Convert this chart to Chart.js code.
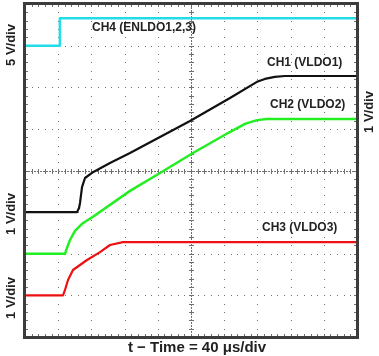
<!DOCTYPE html>
<html><head><meta charset="utf-8">
<script src="https://cdn.jsdelivr.net/npm/chart.js@4/dist/chart.umd.min.js"></script>
<style>html,body{margin:0;padding:0;background:#fff;overflow:hidden}canvas{display:block}</style>
</head><body>
<canvas id="c" width="379" height="356"></canvas>
<script>
// Time in µs (40 µs/div, 10 div), voltage in volts
const ch4Time  = [0, 42, 42, 400];
const ch4Volts = [0, 0, 3.3, 3.3];
const ch1Time  = [0, 62.7, 65.1, 66.3, 68.7, 72.3, 81.9, 102.4, 126.5, 198.8, 247, 279.5, 289, 301, 313, 400];
const ch1Volts = [0, 0, 0.10, 0.22, 0.60, 0.82, 0.96, 1.18, 1.42, 2.19, 2.74, 3.13, 3.20, 3.25, 3.27, 3.27];
const ch2Time  = [0, 48.2, 50.6, 54.2, 60.2, 68.7, 81.9, 126.5, 162.7, 202.4, 244.6, 265, 279.5, 291.6, 400];
const ch2Volts = [0, 0, 0.14, 0.33, 0.55, 0.72, 0.89, 1.51, 1.94, 2.42, 2.90, 3.12, 3.21, 3.24, 3.24];
const ch3Time  = [0, 45.8, 48.2, 51.8, 57.8, 74.7, 90.4, 102.4, 118, 400];
const ch3Volts = [0, 0, 0.13, 0.37, 0.61, 0.85, 1.04, 1.21, 1.28, 1.28];
// channel vertical settings: volts per division and ground offset (div)
const chScale  = {ch1: 1, ch2: 1, ch3: 1, ch4: 5};
const chOffset = {ch1: 3, ch2: 2, ch3: 1, ch4: 7};
const chColors = {ch1: '#111111', ch2: '#22ee22', ch3: '#ee1111', ch4: '#22dde8'};
const chLabels = {ch1: 'CH1 (VLDO1)', ch2: 'CH2 (VLDO2)', ch3: 'CH3 (VLDO3)', ch4: 'CH4 (ENLDO1,2,3)'};
const xTitle = 't \u2212 Time = 40 \u03bcs/div';
const leftTitles = ['5 V/div', '1 V/div', '1 V/div'];
const rightTitle = '1 V/div';

function build(key, t, v) {
  return t.map((ti, i) => ({x: ti, y: chOffset[key] + v[i] / chScale[key]}));
}

const FAM = '"Liberation Sans", Arial, sans-serif';

const scopeGrid = {
  id: 'scopeGrid',
  beforeDatasetsDraw(chart) {
    const {ctx, chartArea: a, scales: {x, y}} = chart;
    ctx.save();
    ctx.fillStyle = '#707070';
    const xs = [], ys = [];
    for (let j = 0; j <= 50; j++) xs.push(Math.round(x.getPixelForValue(j * 8)));
    for (let j = 0; j <= 40; j++) ys.push(Math.round(y.getPixelForValue(j / 5)));
    for (let i = 1; i < 10; i++) {
      const px = xs[i * 5];
      if (i === 5) {
        for (const py of ys) { ctx.fillRect(px - 2, py, 5, 1); }
        for (let py = a.top; py < a.bottom; py += 3) ctx.fillRect(px, py, 1, 2);
      } else {
        for (const py of ys) ctx.fillRect(px, py, 1, 1);
      }
    }
    for (let i = 1; i < 8; i++) {
      const py = ys[i * 5];
      if (i === 4) {
        for (const px of xs) { ctx.fillRect(px, py - 2, 1, 5); }
        for (let px = a.left; px < a.right; px += 3) ctx.fillRect(px, py, 2, 1);
      } else {
        for (const px of xs) ctx.fillRect(px, py, 1, 1);
      }
    }
    for (const px of xs) { ctx.fillRect(px, a.top, 1, 3); ctx.fillRect(px, a.bottom - 3, 1, 3); }
    for (const py of ys) { ctx.fillRect(a.left, py, 3, 1); ctx.fillRect(a.right - 3, py, 3, 1); }
    ctx.restore();
  },
  afterDraw(chart) {
    const {ctx, chartArea: a} = chart;
    ctx.save();
    ctx.strokeStyle = '#3c3c3c';
    ctx.lineWidth = 3;
    ctx.strokeRect(a.left - 0.5, a.top - 0.5, a.right - a.left + 1, a.bottom - a.top + 1);
    ctx.fillStyle = '#222';
    ctx.font = 'bold 12px ' + FAM;
    ctx.textBaseline = 'middle';
    ctx.textAlign = 'left';
    ctx.fillText(chLabels.ch4, 92, 28);
    ctx.fillText(chLabels.ch1, 267, 63);
    ctx.fillText(chLabels.ch2, 270, 105);
    ctx.fillText(chLabels.ch3, 262, 228);
    ctx.textAlign = 'center';
    ctx.font = 'bold 15px ' + FAM;
    ctx.fillText(xTitle, 197, 348);
    ctx.font = 'bold 13px ' + FAM;
    const rot = (txt, cx, cy) => {
      ctx.save(); ctx.translate(cx, cy); ctx.rotate(-Math.PI / 2);
      ctx.fillText(txt, 0, 0); ctx.restore();
    };
    rot(leftTitles[0], 11, 45);
    rot(leftTitles[1], 11, 214);
    rot(leftTitles[2], 11, 298);
    rot(rightTitle, 369, 112);
    ctx.restore();
  }
};

const ds = (key, t, v, w) => ({
  label: chLabels[key], data: build(key, t, v), borderColor: chColors[key],
  borderWidth: w, pointRadius: 0, tension: 0, fill: false, borderJoinStyle: 'round'
});

new Chart(document.getElementById('c'), {
  type: 'line',
  data: {
    datasets: [
      ds('ch4', ch4Time, ch4Volts, 2.5),
      ds('ch3', ch3Time, ch3Volts, 2.2),
      ds('ch2', ch2Time, ch2Volts, 2.5),
      ds('ch1', ch1Time, ch1Volts, 2.2)
    ]
  },
  options: {
    responsive: false, animation: false, devicePixelRatio: 1,
    layout: {padding: {left: 25, top: 4, right: 22, bottom: 19}},
    plugins: {legend: {display: false}, tooltip: {enabled: false}},
    scales: {
      x: {type: 'linear', min: 0, max: 400, display: false},
      y: {type: 'linear', min: 0, max: 8, display: false}
    }
  },
  plugins: [scopeGrid]
});
</script>
</body></html>
